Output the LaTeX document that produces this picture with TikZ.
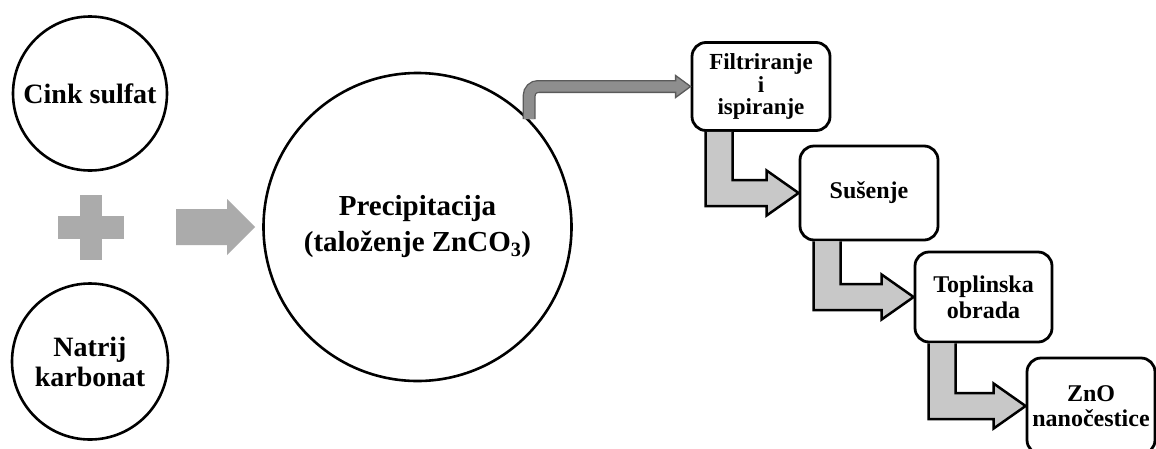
\documentclass[tikz,border=0pt]{standalone}
\usepackage{fontspec}
\setmainfont{Liberation Serif}
\usetikzlibrary{calc}
\definecolor{plusgray}{HTML}{ABABAB}
\definecolor{blkgray}{HTML}{C8C8C8}
\definecolor{elbgray}{HTML}{8E8E8E}
\definecolor{elbdark}{HTML}{5A5A5A}
\newcommand{\blkarrow}[2]{%
  \draw[blk] let \p1=(#1.south west), \p2=(#2.west) in
  (\x1+15pt,\y1) -- (\x1+15pt,\y2-13pt) -- (\x2-32pt,\y2-13pt) -- (\x2-32pt,\y2-22.5pt) -- (\p2)
  -- (\x2-32pt,\y2+22.5pt) -- (\x2-32pt,\y2+13pt) -- (\x1+42pt,\y2+13pt) -- (\x1+42pt,\y1);}
\begin{document}
\begin{tikzpicture}[x=1pt,y=-1pt,
  circ/.style={circle,draw=black,line width=2.6pt,fill=white,inner sep=0pt,align=center,
    font=\fontsize{28}{30}\selectfont\bfseries},
  stepbox/.style={rectangle,rounded corners=14pt,draw=black,line width=2.8pt,fill=white,
    inner sep=0pt,align=center,font=\fontsize{24}{23}\selectfont\bfseries},
  blk/.style={fill=blkgray,draw=black,line width=2.5pt,line join=miter},
  greyshape/.style={fill=plusgray,draw=none}]
\clip (0,0) rectangle (1156,448);
\fill[white] (0,0) rectangle (1156,448);

% circles
\node[circ,minimum size=154pt] (cink) at (90,93.5) {Cink sulfat};
\node[circ,minimum size=156pt] (natrij) at (90,361.5) {Natrij\\karbonat};
\node[circ,minimum size=308pt,font=\fontsize{29}{36}\selectfont\bfseries] (prec) at (417.5,227)
  {Precipitacija\\(taloženje ZnCO\textsubscript{3})};

% step boxes
\node[stepbox,minimum width=138pt,minimum height=88pt,font=\fontsize{23}{22.5}\selectfont\bfseries]
  (filt) at (761,86.5) {Filtriranje\\i\\ispiranje};
\node[stepbox,minimum width=138pt,minimum height=94pt] (sus) at (869,193) {Sušenje};
\node[stepbox,minimum width=137pt,minimum height=90pt]
  (topl) at (983.5,297) {\raisebox{-3pt}{\shortstack{Toplinska\\[1pt]obrada}}};
\node[stepbox,minimum width=128pt,minimum height=96pt,font=\fontsize{24}{25}\selectfont\bfseries]
  (zno) at (1091,406) {ZnO\\nanočestice};

% plus sign
\coordinate (plus) at (91,227.5);
\fill[greyshape] ($(plus)+(-33,-11.5)$) rectangle ($(plus)+(33,11.5)$);
\fill[greyshape] ($(plus)+(-11,-32.5)$) rectangle ($(plus)+(11,32.5)$);

% grey arrow to precipitation
\coordinate (gtip) at ($(prec.west)+(-7,0)$);
\fill[greyshape] ($(gtip)+(-79,-18)$) -- ($(gtip)+(-28,-18)$) -- ($(gtip)+(-28,-28)$) -- (gtip)
  -- ($(gtip)+(-28,28)$) -- ($(gtip)+(-28,18)$) -- ($(gtip)+(-79,18)$) -- cycle;

% elbow arrow from precipitation to filtration
\coordinate (ehead) at ($(filt.west)+(-15,0)$);
\draw[elbdark,line width=13pt,rounded corners=9pt] (prec.44) |- (ehead);
\draw[fill=elbgray,draw=elbdark,line width=1.3pt,line join=miter]
  ($(ehead)+(0,-11)$) -- (filt.west) -- ($(ehead)+(0,11)$) -- cycle;
\draw[elbgray,line width=10.4pt,rounded corners=9pt] (prec.44) |- ($(ehead)+(2,0)$);

% block arrows between steps
\blkarrow{filt}{sus}
\blkarrow{sus}{topl}
\blkarrow{topl}{zno}
\end{tikzpicture}
\end{document}
